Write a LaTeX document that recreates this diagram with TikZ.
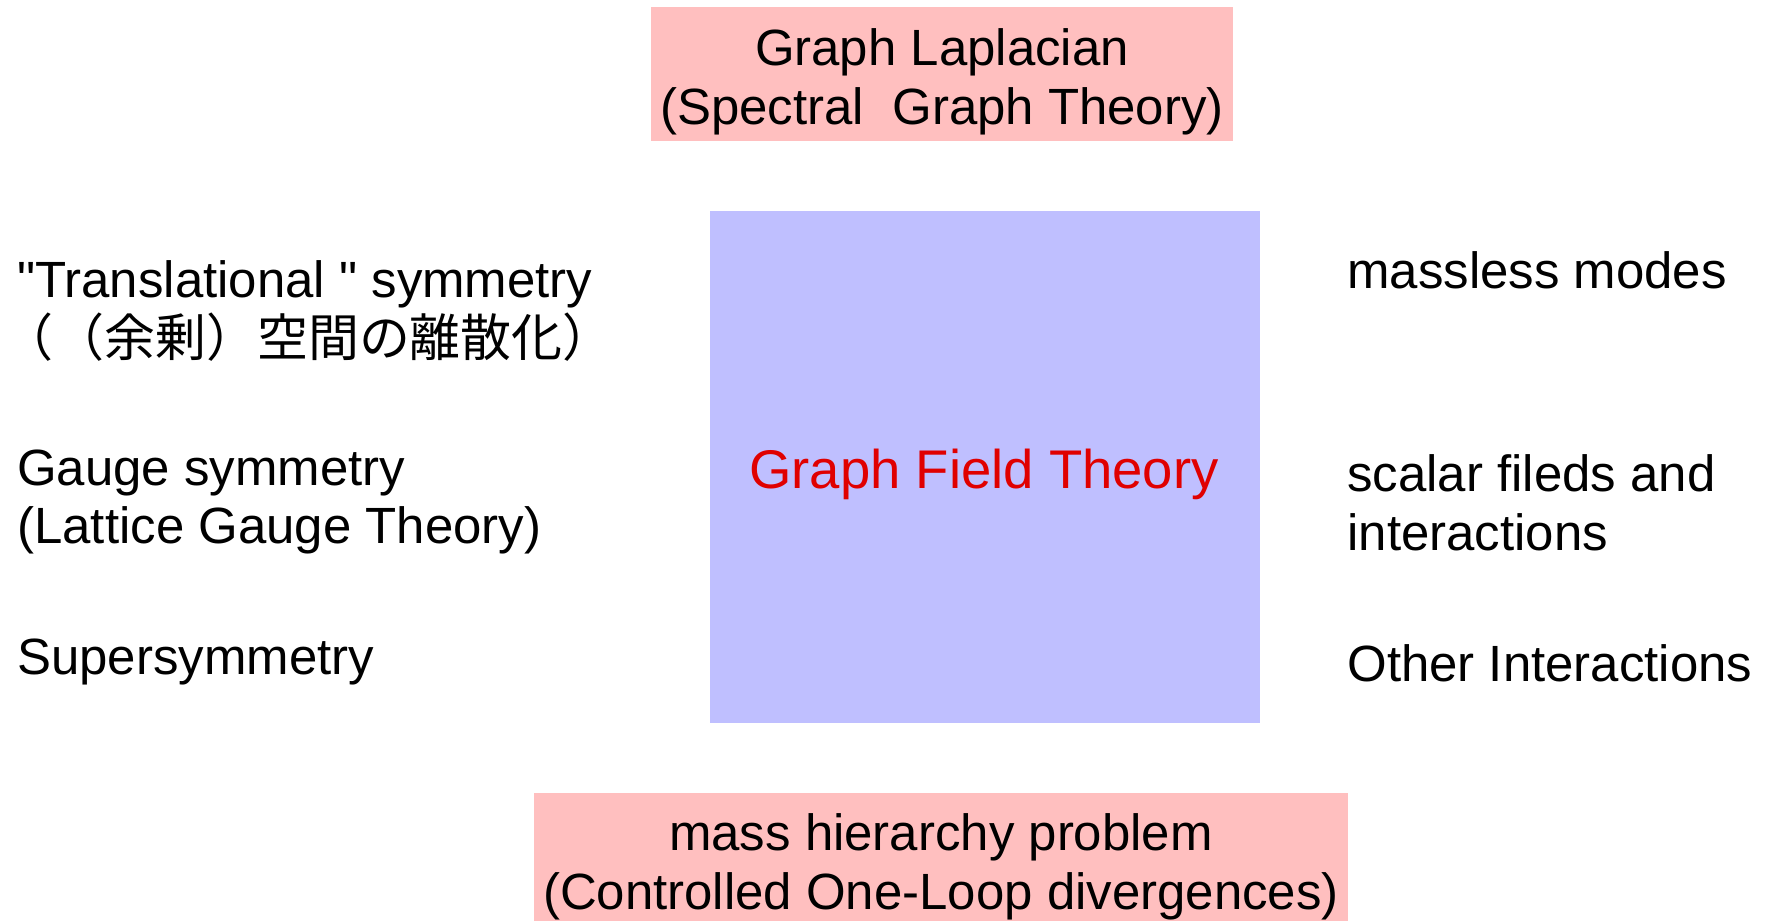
\documentclass[tikz,border=0pt]{standalone}
\usepackage{fontspec}
\setmainfont{Liberation Sans}
\newfontfamily\jpfont{Noto Sans CJK JP}
\usepackage{tikz}
\usetikzlibrary{positioning}

\definecolor{boxpink}{HTML}{FFBFBF}
\definecolor{boxblue}{HTML}{BFBFFF}
\definecolor{gftred}{HTML}{E00000}

\begin{document}
\begin{tikzpicture}[x=0.02cm, y=-0.02cm,
    every node/.style={font=\fontsize{29}{33.3}\selectfont, inner sep=0pt},
    pinkbox/.style={fill=boxpink},
    item/.style={anchor=west, align=left}]
    \useasboundingbox (0,0) rectangle (1767,921);

    % Cuadro central
    \node[fill=boxblue, minimum width=11cm, minimum height=10.26cm] (gft)
      at (985,467) {};
    \node[text=gftred, font=\fontsize{31}{35}\selectfont] (gft-txt)
      at (984,474) {Graph Field Theory};

    % Cajas arriba y abajo
    \node[pinkbox, minimum width=11.64cm, minimum height=2.68cm] (laplacian)
      at (942,74) {};
    \node[align=center] (laplacian-txt) at (942,82)
      {Graph Laplacian\\(Spectral~~Graph Theory)};
    \node[pinkbox, minimum width=16.28cm, minimum height=2.56cm] (hierarchy)
      at (941,857) {};
    \node[align=center] (hierarchy-txt) at (941,867)
      {mass hierarchy problem\\(Controlled One-Loop divergences)};

    % Simetrias (izquierda)
    \node[item] (transl) at (17,311)
      {\textquotedbl Translational \textquotedbl\ symmetry\\
       \hspace*{-0.3cm}{\jpfont （（余剰）空間の離散化）}};
    \node[item] (gauge) at (17,502)
      {Gauge symmetry\\(Lattice Gauge Theory)};
    \node[item] (susy) at (17,662) {Supersymmetry};

    % Contenido (derecha)
    \node[item] (massless) at (1347,270) {massless modes};
    \node[item] (scalar) at (1347,503)
      {scalar fileds and\\interactions};
    \node[item] (other) at (1347,663) {Other Interactions};
\end{tikzpicture}
\end{document}
